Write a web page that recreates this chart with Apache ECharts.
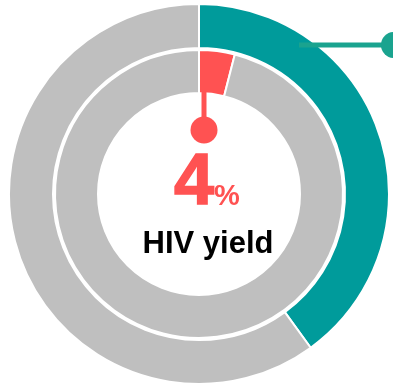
<!DOCTYPE html>
<html>
<head>
<meta charset="utf-8">
<script src="https://cdn.jsdelivr.net/npm/echarts@6/dist/echarts.min.js"></script>
<style>html,body{margin:0;padding:0;background:#fff}#c{width:393px;height:388px}</style>
</head>
<body>
<div id="c"></div>
<script>
var outerNames = ['Tested', 'Not tested'];
var outerValues = [40, 60];
var innerNames = ['HIV positive', 'HIV negative'];
var innerValues = [4, 96];
var headline = '4';
var subtitle = 'HIV yield';

var chart = echarts.init(document.getElementById('c'));
var cx = 199, cy = 194;
chart.setOption({
  animation: false,
  series: [
    {
      type: 'pie', center: [cx, cy], radius: [146, 190], startAngle: 90, clockwise: true,
      label: {show: false}, labelLine: {show: false}, silent: true,
      itemStyle: {borderColor: '#fff', borderWidth: 2},
      data: outerNames.map(function (n, i) {
        return {name: n, value: outerValues[i], itemStyle: {color: i === 0 ? '#009b9b' : '#bfbfbf'}};
      })
    },
    {
      type: 'pie', center: [cx, cy], radius: [101, 144], startAngle: 90, clockwise: true,
      label: {show: false}, labelLine: {show: false}, silent: true,
      itemStyle: {borderColor: '#fff', borderWidth: 2},
      data: innerNames.map(function (n, i) {
        return {name: n, value: innerValues[i], itemStyle: {color: i === 0 ? '#ff5252' : '#bfbfbf'}};
      })
    }
  ],
  graphic: [
    {type: 'line', z: 100, shape: {x1: cx + 5, y1: cy - 120, x2: cx + 5, y2: cy - 64}, style: {stroke: '#ff5252', lineWidth: 5}},
    {type: 'circle', z: 100, shape: {cx: cx + 5, cy: cy - 64, r: 13.5}, style: {fill: '#ff5252'}},
    {type: 'line', z: 100, shape: {x1: cx + 100, y1: cy - 149, x2: cx + 195, y2: cy - 149}, style: {stroke: '#1aa38f', lineWidth: 5}},
    {type: 'circle', z: 100, shape: {cx: cx + 195, cy: cy - 149, r: 13}, style: {fill: '#1aa38f'}},
    {
      type: 'text', z: 100, x: 174, y: 184,
      style: {text: headline, align: 'left', verticalAlign: 'middle', fontSize: 72, fontWeight: 'bold', fill: '#ff5252', stroke: '#ff5252', lineWidth: 1.5, fontFamily: 'Liberation Sans, Arial'}
    },
    {
      type: 'text', z: 100, x: 214, y: 197,
      style: {text: '%', align: 'left', verticalAlign: 'middle', fontSize: 29, fontWeight: 'bold', fill: '#ff5252', fontFamily: 'Liberation Sans, Arial'}
    },
    {
      type: 'text', z: 100, x: cx + 9, y: cy + 50,
      style: {text: subtitle, align: 'center', verticalAlign: 'middle', fontSize: 31, fontWeight: 'bold', fill: '#000', fontFamily: 'Liberation Sans, Arial'}
    }
  ]
});
</script>
</body>
</html>
